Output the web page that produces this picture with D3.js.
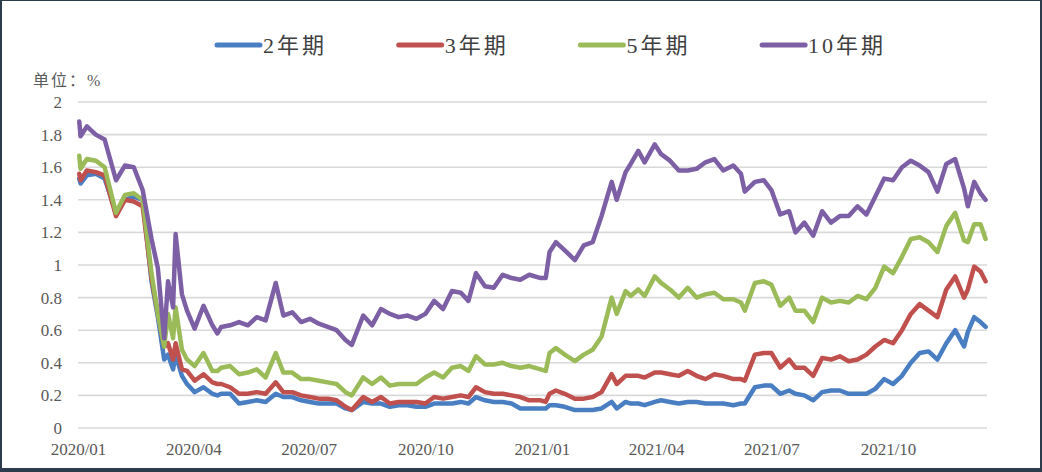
<!DOCTYPE html>
<html>
<head>
<meta charset="utf-8">
<script src="https://cdn.jsdelivr.net/npm/d3@7"></script>
<style>
  html, body { margin: 0; padding: 0; background: #2c3c4c; }
  svg { display: block; }
  text { font-family: "Liberation Serif", "Times New Roman", "DejaVu Serif", "Noto Sans CJK SC", serif; fill: #595959; }
</style>
</head>
<body>
<svg id="chart" width="1042" height="472"></svg>
<script>
// ---------------- data ----------------
const dates = [
  // 2020
  "2020-01-02","2020-01-03","2020-01-08","2020-01-15","2020-01-22","2020-01-31",
  "2020-02-07","2020-02-14","2020-02-21","2020-02-28",
  "2020-03-04","2020-03-09","2020-03-12","2020-03-16","2020-03-18","2020-03-23","2020-03-27",
  "2020-04-02","2020-04-09","2020-04-16","2020-04-20","2020-04-23","2020-04-30",
  "2020-05-07","2020-05-14","2020-05-21","2020-05-28",
  "2020-06-05","2020-06-11","2020-06-18","2020-06-25",
  "2020-07-02","2020-07-09","2020-07-16","2020-07-23","2020-07-30",
  "2020-08-04","2020-08-13","2020-08-20","2020-08-27",
  "2020-09-03","2020-09-10","2020-09-17","2020-09-24",
  "2020-10-01","2020-10-08","2020-10-15","2020-10-22","2020-10-29",
  "2020-11-04","2020-11-10","2020-11-17","2020-11-24",
  "2020-12-01","2020-12-08","2020-12-15","2020-12-22","2020-12-31",
  // 2021
  "2021-01-04","2021-01-07","2021-01-12","2021-01-19","2021-01-27",
  "2021-02-03","2021-02-10","2021-02-17","2021-02-25",
  "2021-03-01","2021-03-08","2021-03-12","2021-03-18","2021-03-23","2021-03-31",
  "2021-04-05","2021-04-12","2021-04-19","2021-04-26",
  "2021-05-03","2021-05-10","2021-05-17","2021-05-24",
  "2021-06-01","2021-06-07","2021-06-10","2021-06-18","2021-06-25",
  "2021-07-01","2021-07-08","2021-07-15","2021-07-20","2021-07-27",
  "2021-08-03","2021-08-10","2021-08-17","2021-08-24","2021-08-31",
  "2021-09-07","2021-09-14","2021-09-21","2021-09-28",
  "2021-10-05","2021-10-12","2021-10-19","2021-10-26",
  "2021-11-02","2021-11-09","2021-11-16","2021-11-23","2021-11-30",
  "2021-12-03","2021-12-08","2021-12-13","2021-12-17"
];

const y2 = [
  1.53,1.50,1.55,1.56,1.53,1.32,
  1.40,1.42,1.40,0.90,
  0.68,0.42,0.45,0.36,0.45,0.32,0.27,
  0.22,0.25,0.21,0.20,0.21,0.21,
  0.15,0.16,0.17,0.16,
  0.21,0.19,0.19,0.17,
  0.16,0.15,0.15,0.15,0.12,
  0.11,0.16,0.15,0.15,
  0.13,0.14,0.14,0.13,
  0.13,0.15,0.15,0.15,0.16,
  0.15,0.19,0.17,0.16,
  0.16,0.15,0.12,0.12,0.12,
  0.12,0.14,0.14,0.13,0.11,
  0.11,0.11,0.12,0.16,
  0.12,0.16,0.15,0.15,0.14,0.16,
  0.17,0.16,0.15,0.16,
  0.16,0.15,0.15,0.15,
  0.14,0.15,0.15,0.25,0.26,
  0.26,0.21,0.23,0.21,0.20,
  0.17,0.22,0.23,0.23,0.21,
  0.21,0.21,0.24,0.30,
  0.27,0.32,0.40,0.46,
  0.47,0.42,0.52,0.60,0.50,
  0.59,0.68,0.65,0.62
];

const y3 = [
  1.56,1.52,1.58,1.57,1.55,1.30,
  1.40,1.39,1.36,0.92,
  0.70,0.50,0.52,0.42,0.52,0.36,0.35,
  0.29,0.33,0.28,0.27,0.27,0.25,
  0.21,0.21,0.22,0.21,
  0.28,0.22,0.22,0.20,
  0.19,0.18,0.18,0.17,0.13,
  0.11,0.19,0.16,0.19,
  0.15,0.16,0.16,0.16,
  0.15,0.19,0.18,0.19,0.20,
  0.19,0.25,0.22,0.21,
  0.21,0.20,0.19,0.17,0.17,
  0.16,0.21,0.23,0.21,0.18,
  0.18,0.19,0.22,0.33,
  0.27,0.32,0.32,0.32,0.31,0.34,
  0.34,0.33,0.32,0.35,
  0.32,0.30,0.33,0.32,
  0.30,0.30,0.29,0.45,0.46,
  0.46,0.37,0.42,0.37,0.37,
  0.32,0.43,0.42,0.44,0.41,
  0.42,0.45,0.50,0.54,
  0.52,0.60,0.70,0.76,
  0.72,0.68,0.85,0.93,0.80,
  0.85,0.99,0.96,0.90
];

const y5 = [
  1.67,1.59,1.65,1.64,1.60,1.32,
  1.43,1.44,1.40,0.95,
  0.70,0.50,0.70,0.55,0.74,0.48,0.42,
  0.38,0.46,0.35,0.35,0.37,0.38,
  0.33,0.34,0.36,0.31,
  0.46,0.34,0.34,0.30,
  0.30,0.29,0.28,0.27,0.22,
  0.20,0.31,0.27,0.31,
  0.26,0.27,0.27,0.27,
  0.31,0.34,0.31,0.37,0.38,
  0.35,0.44,0.39,0.39,
  0.40,0.38,0.37,0.38,0.36,
  0.35,0.46,0.49,0.45,0.41,
  0.45,0.48,0.56,0.80,
  0.70,0.84,0.81,0.85,0.81,0.93,
  0.89,0.85,0.80,0.86,
  0.80,0.82,0.83,0.79,
  0.79,0.77,0.72,0.89,0.90,
  0.88,0.75,0.80,0.72,0.72,
  0.65,0.80,0.77,0.78,0.77,
  0.81,0.79,0.86,0.99,
  0.95,1.05,1.16,1.17,
  1.14,1.08,1.24,1.32,1.15,
  1.14,1.25,1.25,1.16
];

const y10 = [
  1.88,1.79,1.85,1.80,1.77,1.52,
  1.61,1.60,1.46,1.16,
  0.98,0.55,0.90,0.74,1.19,0.82,0.72,
  0.61,0.75,0.63,0.58,0.62,0.63,
  0.65,0.63,0.68,0.66,
  0.89,0.69,0.71,0.65,
  0.67,0.64,0.62,0.60,0.54,
  0.51,0.69,0.63,0.73,
  0.70,0.68,0.69,0.67,
  0.70,0.78,0.73,0.84,0.83,
  0.78,0.95,0.87,0.86,
  0.94,0.92,0.91,0.94,0.92,
  0.92,1.08,1.14,1.09,1.03,
  1.12,1.14,1.30,1.51,
  1.40,1.57,1.62,1.70,1.63,1.74,
  1.68,1.64,1.58,1.58,
  1.59,1.63,1.65,1.58,
  1.61,1.56,1.45,1.51,1.52,
  1.46,1.31,1.33,1.20,1.26,
  1.18,1.33,1.26,1.30,1.30,
  1.36,1.31,1.42,1.53,
  1.52,1.60,1.64,1.61,
  1.57,1.45,1.62,1.65,1.47,
  1.36,1.51,1.44,1.40
];

const seriesNames = ["2年期", "3年期", "5年期", "10年期"];
const seriesColors = ["#4a7ec2", "#c0504d", "#9bbb59", "#7d5fa5"];
const seriesValues = [y2, y3, y5, y10];

const yTicks = [0, 0.2, 0.4, 0.6, 0.8, 1, 1.2, 1.4, 1.6, 1.8, 2];
const xTickDates = ["2020-01-01","2020-04-01","2020-07-01","2020-10-01",
                    "2021-01-01","2021-04-01","2021-07-01","2021-10-01"];
const unitLabel = "单位：%";

// ---------------- drawing ----------------
const W = 1042, H = 472;
const FONT = "'Liberation Serif', 'Times New Roman', 'DejaVu Serif', 'Noto Sans CJK SC', serif";
const svg = d3.select("#chart");
const parse = d3.timeParse("%Y-%m-%d");

// frame
svg.append("rect").attr("x", 0).attr("y", 0).attr("width", W).attr("height", H).attr("fill", "#2c3c4c");
svg.append("rect").attr("x", 2).attr("y", 1).attr("width", W - 4).attr("height", H - 5).attr("fill", "#ffffff");

const plotLeft = 78, plotRight = 987, plotTop = 102, plotBottom = 428;

const x = d3.scaleTime()
  .domain([parse("2020-01-01"), parse("2021-10-01")])
  .range([plotLeft, 888]);
const y = d3.scaleLinear().domain([0, 2]).range([plotBottom, plotTop]);

// gridlines
svg.append("g").selectAll("line").data(yTicks).join("line")
  .attr("x1", plotLeft).attr("x2", plotRight)
  .attr("y1", d => y(d)).attr("y2", d => y(d))
  .attr("stroke", "#d9d9d9").attr("stroke-width", 1.6);

// y axis
const yAxis = svg.append("g").attr("transform", `translate(${plotLeft},0)`)
  .call(d3.axisLeft(y).tickValues(yTicks).tickSize(0).tickPadding(16).tickFormat(d => String(d)));
yAxis.attr("font-family", null);
yAxis.select(".domain").remove();
yAxis.selectAll("text").attr("font-size", 17).style("font-family", FONT).style("fill", "#595959");

// x axis
const xAxis = svg.append("g").attr("transform", `translate(0,${plotBottom})`)
  .call(d3.axisBottom(x).tickValues(xTickDates.map(parse)).tickSize(0).tickPadding(15)
    .tickFormat(d3.timeFormat("%Y/%m")));
xAxis.attr("font-family", null);
xAxis.select(".domain").remove();
xAxis.selectAll("text").attr("font-size", 17).style("font-family", FONT).style("fill", "#595959");

// unit label
svg.append("text").attr("x", 33).attr("y", 86).attr("font-size", 16)
  .style("font-family", FONT).attr("letter-spacing", 2).text(unitLabel);

// lines
const parsedDates = dates.map(parse);
const line = d3.line().x(d => x(d[0])).y(d => y(d[1]));
seriesValues.forEach((vals, i) => {
  const pts = parsedDates.map((dt, k) => [dt, vals[k]]).filter(p => p[1] != null);
  svg.append("path").datum(pts)
    .attr("d", line)
    .attr("fill", "none")
    .attr("stroke", seriesColors[i])
    .attr("stroke-width", 4.5)
    .attr("stroke-linejoin", "round")
    .attr("stroke-linecap", "round");
});

// legend
const legend = svg.append("g");
seriesNames.forEach((name, i) => {
  const lx = 217 + i * 181.7;
  legend.append("line").attr("x1", lx).attr("x2", lx + 43).attr("y1", 45).attr("y2", 45)
    .attr("stroke", seriesColors[i]).attr("stroke-width", 5).attr("stroke-linecap", "round");
  legend.append("text").attr("x", lx + 46).attr("y", 53).attr("font-size", 22)
    .style("font-family", FONT).attr("letter-spacing", 3).style("fill", "#404040").text(name);
});
</script>
</body>
</html>
